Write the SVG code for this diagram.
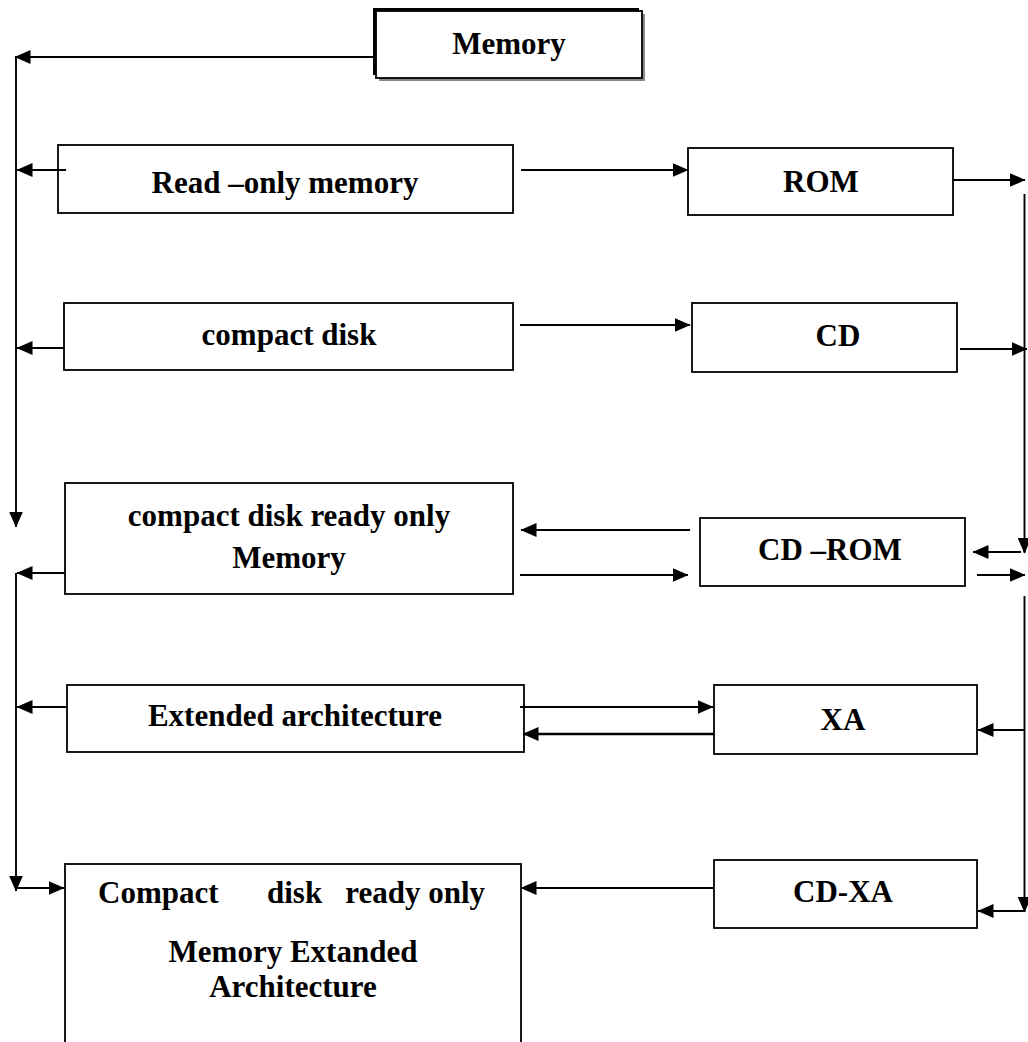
<svg xmlns="http://www.w3.org/2000/svg" width="1028" height="1042" viewBox="0 0 1028 1042">
  <defs>
    <marker id="arrow" markerUnits="userSpaceOnUse" markerWidth="17" markerHeight="14" refX="15.5" refY="7" orient="auto">
      <path d="M0,0 L16,7 L0,14 Z" fill="#000"/>
    </marker>
    <style>
      .box { fill: #fff; stroke: #000; stroke-width: 1.8; }
      .lbl { font-family: "Liberation Serif", "Times New Roman", serif; font-weight: bold; font-size: 31px; fill: #000; text-anchor: middle; }
      .lbl-start { text-anchor: start; }
      .lbl-end { text-anchor: end; }
      .conn path { fill: none; stroke: #000; stroke-width: 1.9; }
      .conn .arr { marker-end: url(#arrow); }
    </style>
  </defs>
  <rect width="1028" height="1042" fill="#fff"/>

  <!-- Title box with shadow -->
  <g id="memory">
    <rect x="379" y="14" width="266" height="67" fill="#8a8a8a"/>
    <rect x="373" y="8" width="266" height="67" fill="#000"/>
    <rect class="box" x="376" y="11" width="266" height="67"/>
    <text class="lbl" x="509" y="54">Memory</text>
  </g>

  <!-- Left column: full names -->
  <g id="read-only-memory">
    <rect class="box" x="58" y="145" width="455" height="68"/>
    <text class="lbl" x="285" y="193">Read –only memory</text>
  </g>
  <g id="compact-disk">
    <rect class="box" x="64" y="303" width="449" height="67"/>
    <text class="lbl" x="289" y="345">compact disk</text>
  </g>
  <g id="cd-rom-full">
    <rect class="box" x="65" y="483" width="448" height="111"/>
    <text class="lbl" x="289" y="526">compact disk ready only</text>
    <text class="lbl" x="289" y="568">Memory</text>
  </g>
  <g id="extended-architecture">
    <rect class="box" x="67" y="685" width="457" height="67"/>
    <text class="lbl" x="295" y="726">Extended architecture</text>
  </g>
  <g id="cd-xa-full">
    <rect class="box" x="65" y="864" width="456" height="200"/>
    <text class="lbl lbl-start" x="98" y="903">Compact</text>
    <text class="lbl lbl-start" x="267" y="903">disk</text>
    <text class="lbl lbl-end" x="485" y="903">ready only</text>
    <text class="lbl" x="293" y="962">Memory Extanded</text>
    <text class="lbl" x="293" y="997">Architecture</text>
  </g>

  <!-- Right column: abbreviations -->
  <g id="rom">
    <rect class="box" x="688" y="148" width="265" height="67"/>
    <text class="lbl" x="821" y="192">ROM</text>
  </g>
  <g id="cd">
    <rect class="box" x="692" y="303" width="265" height="69"/>
    <text class="lbl" x="838" y="346">CD</text>
  </g>
  <g id="cd-rom">
    <rect class="box" x="700" y="518" width="265" height="68"/>
    <text class="lbl" x="830" y="560">CD –ROM</text>
  </g>
  <g id="xa">
    <rect class="box" x="714" y="685" width="263" height="69"/>
    <text class="lbl" x="843" y="730">XA</text>
  </g>
  <g id="cd-xa">
    <rect class="box" x="714" y="860" width="263" height="68"/>
    <text class="lbl" x="843" y="902">CD-XA</text>
  </g>

  <!-- Connectors -->
  <g id="connectors" class="conn">
    <!-- left bus -->
    <path class="arr" d="M376,57 H15"/>
    <path class="arr" d="M16,57 V527"/>
    <path class="arr" d="M66,170 H17"/>
    <path class="arr" d="M64,348 H17"/>
    <path class="arr" d="M65,573 H17"/>
    <path class="arr" d="M16,573 V891"/>
    <path class="arr" d="M16,888 H64"/>
    <path class="arr" d="M67,707 H17"/>

    <!-- between columns -->
    <path class="arr" d="M521,170 H688"/>
    <path class="arr" d="M520,325 H690"/>
    <path class="arr" d="M690,530 H521"/>
    <path class="arr" d="M520,575 H688"/>
    <path class="arr" d="M520,707 H713"/>
    <path class="arr" d="M714,734 H523" style="stroke-width:2.4"/>
    <path class="arr" d="M714,888 H521"/>

    <!-- right bus -->
    <path class="arr" d="M953,180 H1025"/>
    <path d="M1024.5,194 V552"/>
    <path class="arr" d="M1024.5,538 V553"/>
    <path class="arr" d="M960,349 H1027"/>
    <path class="arr" d="M1021,552 H973"/>
    <path class="arr" d="M977,575 H1025"/>
    <path d="M1024.5,596 V911"/>
    <path class="arr" d="M1024.5,898 V912"/>
    <path class="arr" d="M1024.5,730 H978"/>
    <path class="arr" d="M1024.5,911 H978"/>
  </g>
</svg>
